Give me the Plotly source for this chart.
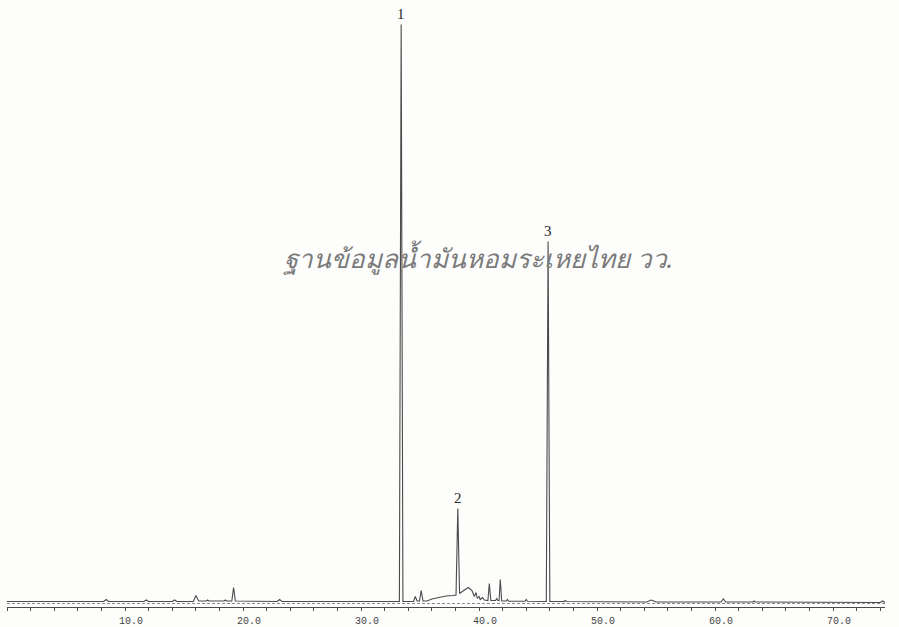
import plotly.graph_objects as go

# Detector trace: retention time (min) and signal (response units above baseline)
time_min = [
    0.0, 8.2, 8.4, 8.6, 11.6, 11.8, 12.0, 14.0, 14.2, 14.4,
    15.8, 16.0, 16.25, 16.9, 17.0, 17.1, 18.4, 18.5, 18.6,
    19.05, 19.2, 19.35, 22.9, 23.1, 23.3,
    33.25, 33.4, 33.55,
    34.45, 34.6, 34.75, 34.95, 35.1, 35.25, 35.6, 36.0, 36.6, 37.2, 37.8,
    38.05, 38.2, 38.35, 38.7, 39.1, 39.4, 39.6, 39.75, 39.85, 40.0, 40.1,
    40.3, 40.45, 40.75, 40.87, 41.0, 41.4, 41.5, 41.6, 41.7, 41.8, 41.92,
    42.3, 42.4, 42.5, 43.9, 44.0, 44.1,
    45.7, 45.85, 46.0,
    47.2, 47.3, 47.4, 54.2, 54.6, 55.0, 60.5, 60.7, 60.9,
    63.2, 63.3, 63.4, 74.0, 74.2, 74.4,
]
signal = [
    0, 0, 2, 0, 0, 1.5, 0, 0, 1.5, 0,
    0, 6, 0.5, 0.5, 1.5, 0.5, 0.5, 1.5, 0.5,
    0.5, 14, 0.5, 0, 2, 0,
    0, 577, 0,
    0, 5, 0.5, 0.5, 11, 0.5, 0.5, 2.5, 4, 5.5, 6,
    6.5, 93, 8, 11, 14, 11, 5, 9, 3, 5, 2,
    4, 1.5, 1, 18, 1, 1, 3, 1, 1, 22, 0.5,
    0.5, 2, 0.3, 0.3, 2, 0.3,
    0, 360, 0,
    0, 1, 0, -0.5, 1.5, -0.5, -0.5, 2.5, -0.5,
    -0.5, 0.5, -0.5, -1, 0.5, -1,
]

# Numbered peaks
peak_labels = ["1", "2", "3"]
peak_times = [33.4, 38.2, 45.85]
peak_heights = [577, 93, 360]

# Axis ticks (minutes)
tick_values = list(range(0, 75, 2))
labelled_ticks = [10, 20, 30, 40, 50, 60, 70]
tick_text = [f"{v:.1f}" if v in labelled_ticks else "" for v in tick_values]

watermark = "ฐานข้อมูลน้ำมันหอมระเหยไทย วว."

ink = "#4a4a4a"

fig = go.Figure()
fig.add_trace(go.Scatter(
    x=time_min, y=signal, mode="lines",
    line=dict(color=ink, width=1.1),
    hoverinfo="skip", showlegend=False,
))

# dashed baseline track under the trace
fig.add_shape(type="line", xref="x", yref="y", x0=0, x1=74.4, y0=-2, y1=-2,
              line=dict(color="#8a8a8a", width=1, dash="3px,2px"))

for lab, t, h in zip(peak_labels, peak_times, peak_heights):
    fig.add_annotation(x=t, y=h, text=lab, showarrow=False,
                       xanchor="center", yanchor="bottom", yshift=1,
                       font=dict(family="Liberation Serif", size=15, color="#2a2a2a"))

fig.add_annotation(x=0.536, y=0.575, xref="paper", yref="paper",
                   text=f"<i>{watermark}</i>", showarrow=False,
                   font=dict(family="Noto Sans", size=26, color="#7a7a7a"))

fig.update_layout(
    width=899, height=627,
    margin=dict(l=7, r=14, t=0, b=20),
    paper_bgcolor="#fdfdfc", plot_bgcolor="#fdfdfc",
    xaxis=dict(
        range=[0, 74.4], showgrid=False, zeroline=False,
        showline=True, linecolor=ink, linewidth=1,
        ticks="outside", ticklen=3, tickcolor=ink, tickwidth=1,
        tickmode="array", tickvals=tick_values, ticktext=tick_text,
        ticklabelshift=6, ticklabelstandoff=1,
        tickfont=dict(family="Liberation Mono", size=10, color="#444444"),
    ),
    yaxis=dict(range=[-5.5, 601.5], visible=False),
)

fig.write_html("out.html")
